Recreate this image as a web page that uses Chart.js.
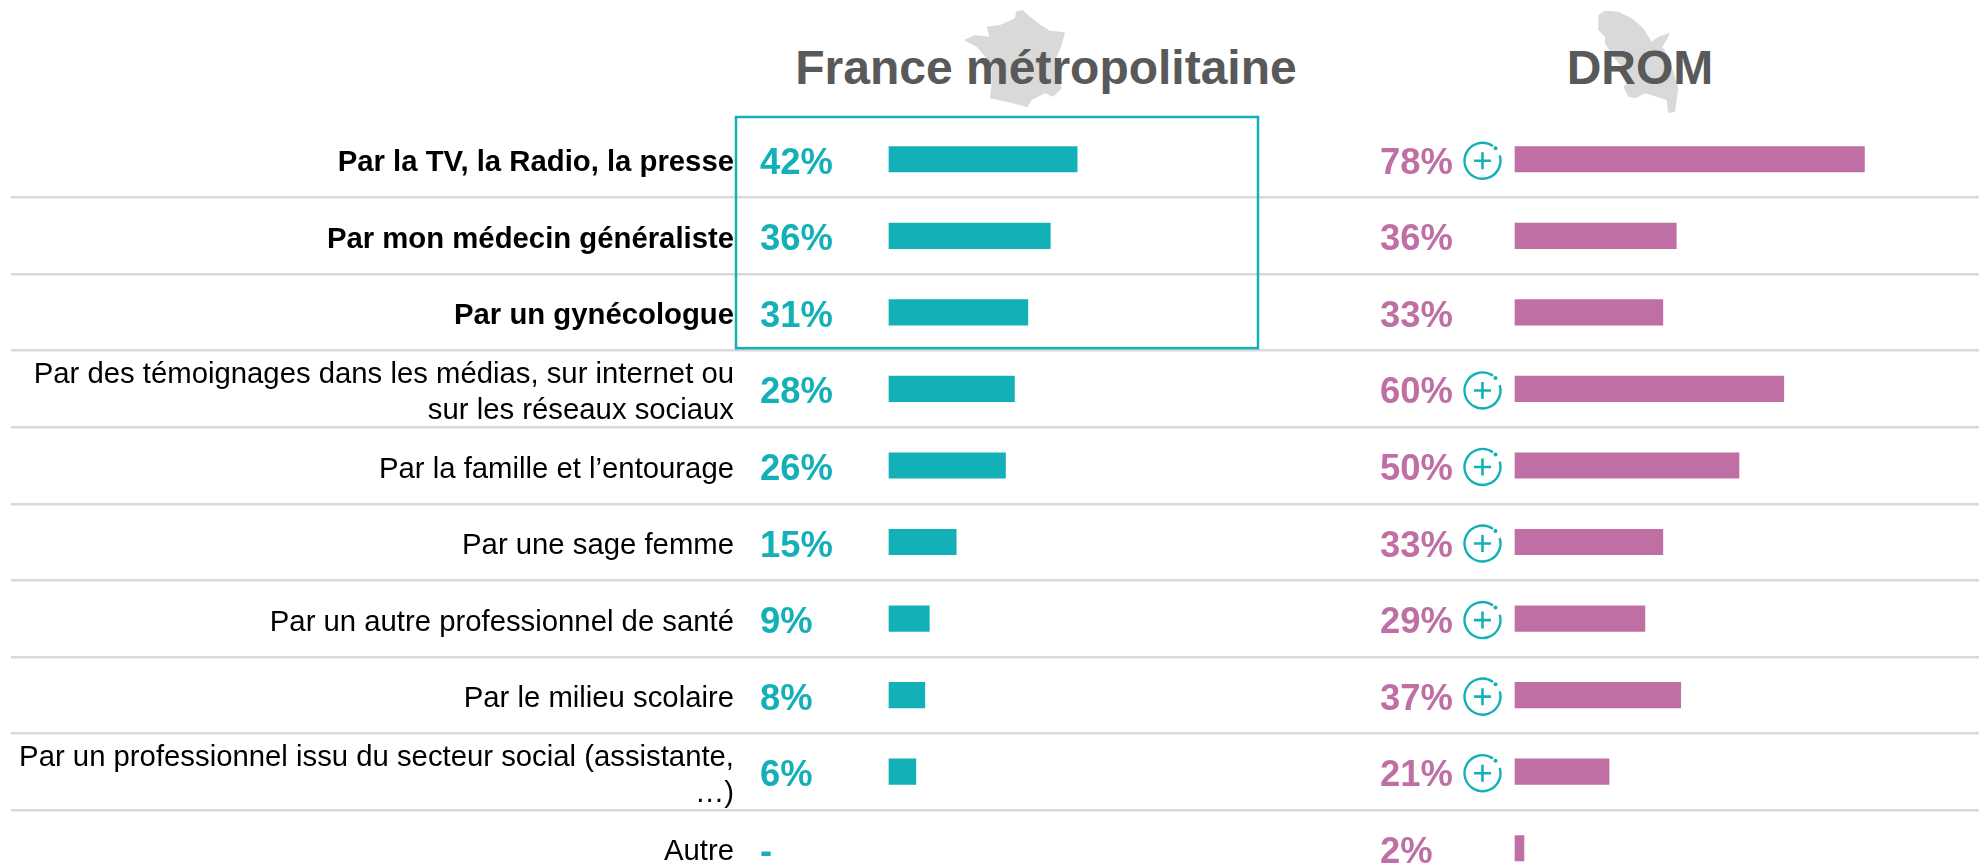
<!DOCTYPE html>
<html lang="fr">

<head>
    <meta charset="UTF-8">
    <title>France métropolitaine / DROM</title>
    <script src="https://cdn.jsdelivr.net/npm/chart.js"></script>
    <style>
        html, body {
            margin: 0;
            padding: 0;
            width: 1979px;
            height: 865px;
            overflow: hidden;
            background: #fff;
        }

        .map {
            position: absolute;
            top: 0;
        }

        .head {
            position: absolute;
            top: 41px;
            font: bold 48px/54px "Liberation Sans", Arial, sans-serif;
            color: #595959;
            white-space: nowrap;
            transform: translateX(-50%);
        }

        canvas {
            position: absolute;
            left: 0;
            top: 0;
        }
    </style>
</head>

<body>
    <!-- map shapes behind the two headings -->
    <svg class="map" style="left:950px" width="130" height="115" viewBox="0 0 390 345">
        <polygon fill="#d9d9d9" points="198,35 218,30 240,50 268,72 300,92 345,97 335,135 320,170 318,195 325,230 335,265 310,290 285,280 245,300 232,322 190,310 120,295 125,250 125,205 105,170 80,140 42,120 75,105 118,110 110,80 150,75 195,55" />
    </svg>
    <svg class="map" style="left:1585px" width="110" height="120" viewBox="0 0 330 360">
        <polygon fill="#d9d9d9" points="40,45 60,32 100,35 140,55 175,85 200,125 220,110 255,98 245,120 232,140 250,170 265,215 280,265 275,300 270,335 250,340 245,300 215,290 180,280 150,295 130,290 115,260 140,240 110,200 85,170 60,130 60,110 40,90" />
    </svg>
    <div class="head" style="left:1046px">France métropolitaine</div>
    <div class="head" style="left:1640px">DROM</div>

    <!-- taller than the window: the last row is cut by the bottom edge -->
    <canvas id="chart" width="1979" height="887"></canvas>

    <script>
        const categories = [
            'Par la TV, la Radio, la presse',
            'Par mon médecin généraliste',
            'Par un gynécologue',
            ['Par des témoignages dans les médias, sur internet ou', 'sur les réseaux sociaux'],
            'Par la famille et l’entourage',
            'Par une sage femme',
            'Par un autre professionnel de santé',
            'Par le milieu scolaire',
            ['Par un professionnel issu du secteur social (assistante,', '…)'],
            'Autre'
        ];
        const franceValues = [42, 36, 31, 28, 26, 15, 9, 8, 6, null];
        const dromValues = [78, 36, 33, 60, 50, 33, 29, 37, 21, 2];
        const dromHigher = [true, false, false, true, true, true, true, true, true, false];
        const boldRows = 3;

        const TEAL = '#14b0b8';
        const PINK = '#bf6fa3';
        const AREA_LEFT = 744;
        const RULE_LEFT = 11;
        const PX_PER_POINT = 4.48;
        const FRANCE_ZERO = 889;
        const DROM_ZERO = 1515;

        function valueText(v) {
            return v === null ? '-' : v + '%';
        }

        // value labels, "+" markers and the frame round the top three rows
        const overlays = {
            id: 'overlays',
            afterDatasetsDraw(chart) {
                const ctx = chart.ctx;
                const y = chart.scales.y;
                ctx.save();
                ctx.font = 'bold 36.4px "Liberation Sans", Arial, sans-serif';
                ctx.textAlign = 'left';
                ctx.textBaseline = 'middle';
                categories.forEach((c, i) => {
                    const py = y.getPixelForValue(i);
                    ctx.fillStyle = TEAL;
                    ctx.fillText(valueText(franceValues[i]), 760, py + 4.5);
                    ctx.fillStyle = PINK;
                    ctx.fillText(valueText(dromValues[i]), 1380, py + 4.5);
                    if (dromHigher[i]) drawPlus(ctx, 1482.5, py + 1.5);
                });
                const step = y.getPixelForValue(1) - y.getPixelForValue(0);
                const top = y.getPixelForValue(0) - step / 2 - 4;
                ctx.strokeStyle = TEAL;
                ctx.lineWidth = 2.5;
                ctx.strokeRect(736, top, 522, step * boldRows + 1.5);
                ctx.restore();
            }
        };

        function drawPlus(ctx, x, y) {
            ctx.strokeStyle = TEAL;
            ctx.fillStyle = TEAL;
            ctx.lineWidth = 2.4;
            ctx.beginPath();
            ctx.arc(x, y, 18, -0.3, -0.95 + Math.PI * 2);
            ctx.stroke();
            ctx.lineWidth = 2.6;
            ctx.beginPath();
            ctx.moveTo(x - 8.5, y);
            ctx.lineTo(x + 8.5, y);
            ctx.moveTo(x, y - 8.5);
            ctx.lineTo(x, y + 8.5);
            ctx.stroke();
            ctx.beginPath();
            ctx.arc(x + 13, y - 12.5, 2, 0, Math.PI * 2);
            ctx.fill();
        }

        new Chart(document.getElementById('chart').getContext('2d'), {
            type: 'bar',
            data: {
                labels: categories,
                datasets: [
                    { label: 'France métropolitaine', data: franceValues, backgroundColor: TEAL, xAxisID: 'xFrance', grouped: false, barThickness: 25.5 },
                    { label: 'DROM', data: dromValues, backgroundColor: PINK, xAxisID: 'xDrom', grouped: false, barThickness: 25.5 }
                ]
            },
            options: {
                indexAxis: 'y',
                responsive: false,
                animation: false,
                layout: { padding: { top: 121, bottom: 0.5, left: 0, right: 0 } },
                plugins: { legend: { display: false }, tooltip: { enabled: false } },
                scales: {
                    y: {
                        type: 'category',
                        afterFit(scale) { scale.width = AREA_LEFT; },
                        border: { display: false },
                        grid: {
                            offset: true,
                            color: '#d9d9d9',
                            tickColor: '#d9d9d9',
                            tickLength: AREA_LEFT - RULE_LEFT,
                            lineWidth: c => (c.index === 0 ? 0 : 2.5),
                            tickWidth: c => (c.index === 0 ? 0 : 2.5)
                        },
                        ticks: {
                            autoSkip: false,
                            color: '#000',
                            padding: RULE_LEFT - AREA_LEFT + 10,
                            labelOffset: 4,
                            font: c => ({
                                family: '"Liberation Sans", Arial, sans-serif',
                                size: 29.3,
                                lineHeight: 1.23,
                                weight: c.index < boldRows ? 'bold' : 'normal'
                            })
                        }
                    },
                    xFrance: {
                        display: false,
                        min: (AREA_LEFT - FRANCE_ZERO) / PX_PER_POINT,
                        max: (1979 - FRANCE_ZERO) / PX_PER_POINT
                    },
                    xDrom: {
                        display: false,
                        min: (AREA_LEFT - DROM_ZERO) / PX_PER_POINT,
                        max: (1979 - DROM_ZERO) / PX_PER_POINT
                    }
                }
            },
            plugins: [overlays]
        });
    </script>
</body>

</html>
